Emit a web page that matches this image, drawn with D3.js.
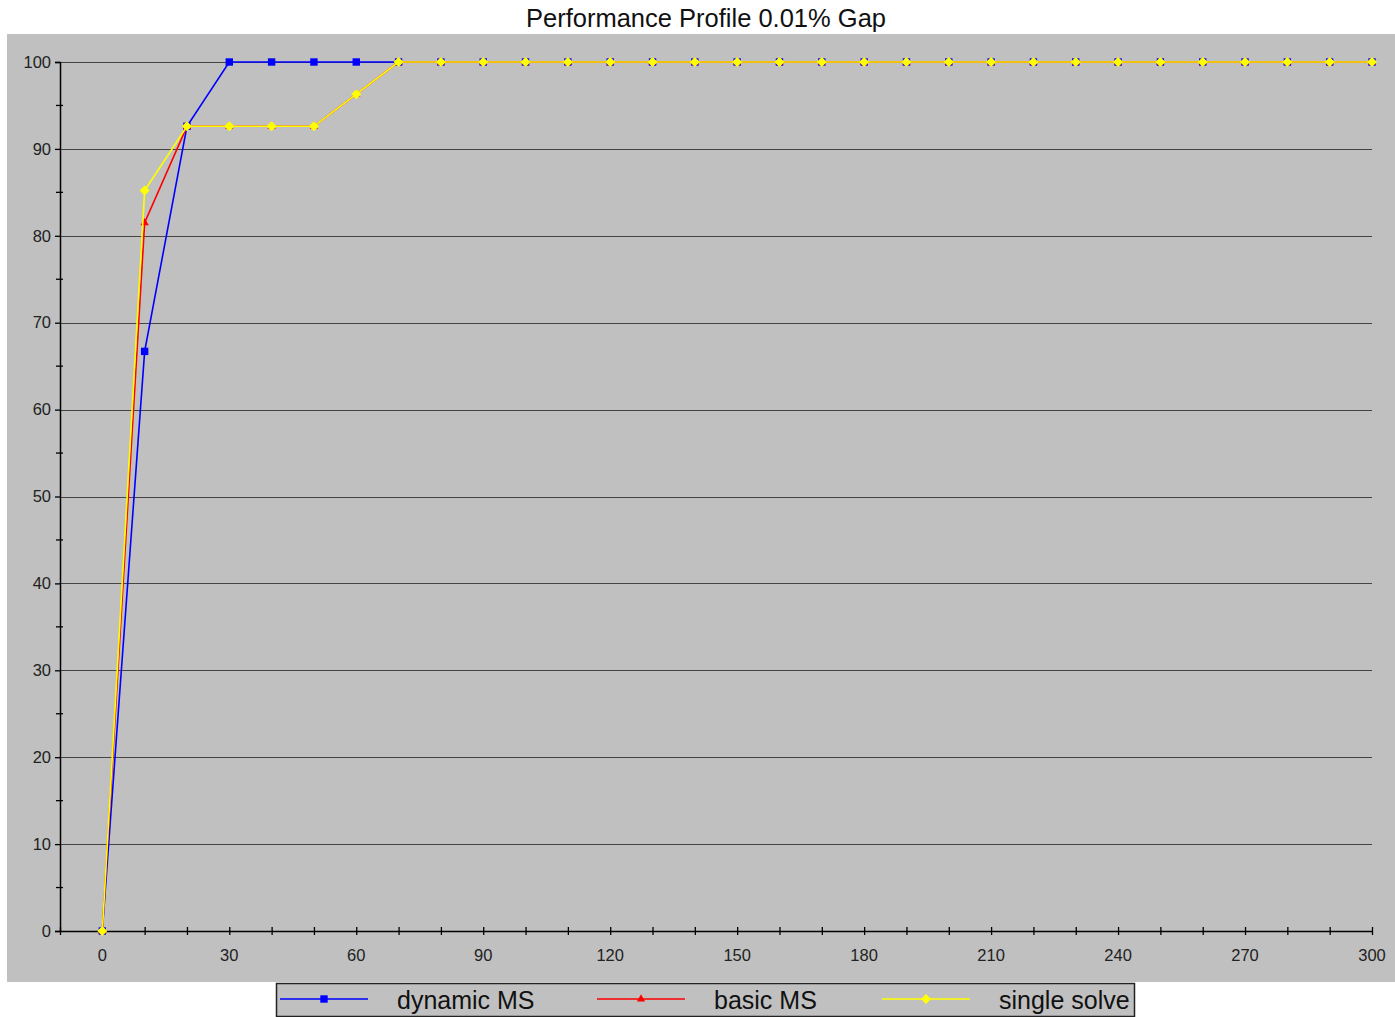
<!DOCTYPE html>
<html><head><meta charset="utf-8">
<script src="https://cdn.jsdelivr.net/npm/d3@7"></script>
<style>
html,body{margin:0;padding:0;background:#fff;}
svg{display:block;font-family:"Liberation Sans",Arial,sans-serif;}
</style></head>
<body>
<svg id="chart" width="1395" height="1017"></svg>
<script>
const title = "Performance Profile 0.01% Gap";
const xValues = [0,10,20,30,40,50,60,70,80,90,100,110,120,130,140,150,160,170,180,190,200,210,220,230,240,250,260,270,280,290,300];
const dynamicMS = [0,66.7,92.6,100,100,100,100,100,100,100,100,100,100,100,100,100,100,100,100,100,100,100,100,100,100,100,100,100,100,100,100];
const basicMS  = [0,81.5,92.6,92.6,92.6,92.6,96.3,100,100,100,100,100,100,100,100,100,100,100,100,100,100,100,100,100,100,100,100,100,100,100,100];
const singleSolve = [0,85.2,92.6,92.6,92.6,92.6,96.3,100,100,100,100,100,100,100,100,100,100,100,100,100,100,100,100,100,100,100,100,100,100,100,100];
const seriesNames = ["dynamic MS","basic MS","single solve"];
const seriesColors = ["#0000ff","#ff0000","#ffff00"];
const xTickLabels = [0,30,60,90,120,150,180,210,240,270,300];
const yTickLabels = [0,10,20,30,40,50,60,70,80,90,100];

const svg = d3.select("#chart");
const x = d3.scaleLinear().domain([-10,300]).range([60,1372]);
const y = d3.scaleLinear().domain([0,100]).range([931,62]);

// background panel
svg.append("rect").attr("x",7).attr("y",34).attr("width",1388).attr("height",948).attr("fill","#c0c0c0");

// title
svg.append("text").attr("x",706).attr("y",27).attr("text-anchor","middle")
  .attr("font-size",25.5).attr("fill","#111").text(title);

// gridlines
svg.append("g").selectAll("line").data(yTickLabels.filter(v=>v>0)).join("line")
  .attr("x1",x(-10)).attr("x2",x(300)).attr("y1",d=>Math.round(y(d))+0.5).attr("y2",d=>Math.round(y(d))+0.5)
  .attr("stroke","#444").attr("stroke-width",1.2);

// y axis
const yAxis = svg.append("g").attr("transform",`translate(${x(-10)},0)`)
  .call(d3.axisLeft(y).tickValues(yTickLabels).tickSize(5).tickPadding(4).tickFormat(d3.format("d")));
yAxis.select(".domain").attr("stroke","#000").attr("stroke-width",1.5);
yAxis.selectAll(".tick line").attr("stroke","#000").attr("stroke-width",1.3);
yAxis.selectAll(".tick text").attr("font-size",16.5).attr("fill","#222").attr("font-family","Liberation Sans, Arial, sans-serif");
// minor y ticks
yAxis.append("g").selectAll("line").data(yTickLabels.slice(1).map(v=>v-5)).join("line")
  .attr("x1",-4).attr("x2",3).attr("y1",d=>y(d)).attr("y2",d=>y(d)).attr("stroke","#000").attr("stroke-width",1.3);

// x axis
const xAxis = svg.append("g").attr("transform",`translate(0,${y(0)})`)
  .call(d3.axisBottom(x).tickValues(xValues.concat([-10])).tickSize(0).tickFormat(""));
xAxis.select(".domain").attr("stroke","#000").attr("stroke-width",1.5);
xAxis.selectAll(".tick").append("line").attr("y1",-4).attr("y2",4).attr("stroke","#000").attr("stroke-width",1.3);
svg.append("g").selectAll("text").data(xTickLabels).join("text")
  .attr("x",d=>x(d)).attr("y",961).attr("text-anchor","middle").attr("font-size",16.5).attr("fill","#222").text(d=>d);

// series
const allSeries = [dynamicMS, basicMS, singleSolve];
const line = d3.line().x((d,i)=>x(xValues[i])).y(d=>y(d));
const symbols = [d3.symbolSquare, d3.symbolTriangle, d3.symbolSquare];
const symSizes = [55, 30, 50];
const symRot = [0, 0, 45];
allSeries.forEach((vals,si)=>{
  const g = svg.append("g");
  g.append("path").datum(vals).attr("d",line).attr("fill","none")
    .attr("stroke",seriesColors[si]).attr("stroke-width",1.6);
  g.selectAll("path.m").data(vals).join("path").attr("class","m")
    .attr("transform",(d,i)=>`translate(${x(xValues[i])},${y(d)}) rotate(${symRot[si]})`)
    .attr("d",d3.symbol().type(symbols[si]).size(symSizes[si]))
    .attr("fill",seriesColors[si]);
});

// legend
const lg = svg.append("g");
lg.append("rect").attr("x",276.5).attr("y",983.5).attr("width",858).attr("height",33)
  .attr("fill","#c0c0c0").attr("stroke","#222").attr("stroke-width",1.5);
const legendX = [280, 597, 882];
seriesNames.forEach((name,si)=>{
  const lx = legendX[si];
  lg.append("line").attr("x1",lx).attr("x2",lx+88).attr("y1",999).attr("y2",999)
    .attr("stroke",seriesColors[si]).attr("stroke-width",1.6);
  lg.append("path").attr("transform",`translate(${lx+44},999) rotate(${symRot[si]})`)
    .attr("d",d3.symbol().type(symbols[si]).size(symSizes[si])).attr("fill",seriesColors[si]);
  lg.append("text").attr("x",lx+117).attr("y",1009).attr("font-size",25).attr("fill","#111").text(name);
});
</script>
</body></html>
